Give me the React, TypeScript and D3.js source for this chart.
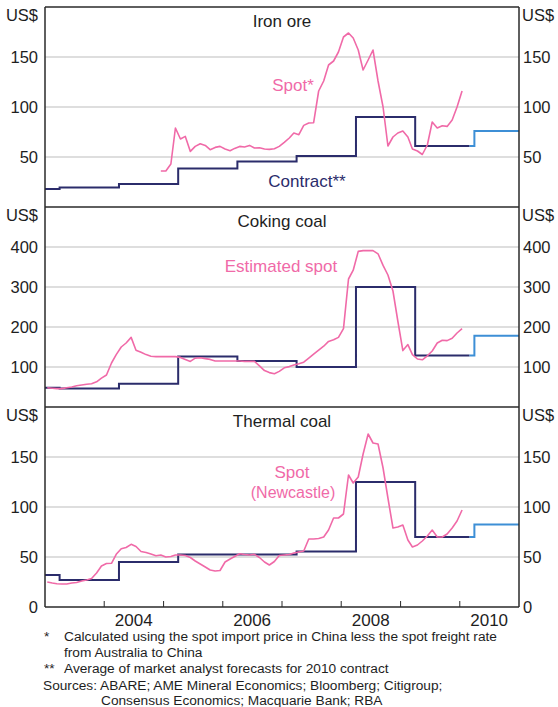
import React from 'react';
import * as d3 from 'd3';

// ---------- DATA ----------
const yearLabels = ['2004', '2006', '2008', '2010'];
const yearTicks = ['2004', '2005', '2006', '2007', '2008', '2009', '2010'];

// Monthly spot prices (US$), plotted mid-month
const ironSpotStart = '2004-12';
const ironSpot = [
  36, 36, 43, 79, 68, 70.6, 55.6, 60.6, 63.3, 61.6, 57.3, 59.6, 60.6, 58, 56.3, 58.6,
  60.6, 60, 61.6, 59, 59.3, 58, 57.6, 58.3, 60.6, 64.6, 69, 74, 72.3, 81.6, 84, 84.3,
  116, 126, 142, 146, 155, 170, 174, 169, 157, 137, 147, 157, 126, 100, 61, 70,
  74, 76, 70, 58, 56, 52.5, 62, 85, 79, 81.3, 80.6, 87, 100, 116,
];

const cokingSpotStart = '2003-01';
const cokingSpot = [
  48, 47, 46, 46, 48, 50, 53, 55, 57, 58, 63, 72, 80, 110, 131, 150, 160, 174, 142, 137,
  131, 127, 126, 126, 126, 126, 126, 124, 119, 114, 122, 123, 121, 119, 115, 115, 115, 115, 115, 115,
  114, 114, 114, 103, 91, 86, 83, 89, 98, 101, 105, 108, 112, 122, 132, 142, 152, 164, 168, 174,
  196, 320, 342, 389, 391, 391, 391, 383, 354, 330, 290, 215, 141, 156, 131, 120, 118, 128, 140, 160,
  167, 166, 172, 185, 196,
];

const thermalSpotStart = '2003-01';
const thermalSpot = [
  25, 24, 23.3, 23, 23, 24, 24.5, 26, 27, 28.5, 34, 41, 43.5, 43.7, 52.7, 58.3, 59.5, 62.7, 60.5, 55.5,
  54.5, 53, 51.3, 52, 50, 50.5, 52, 52, 51.5, 49.5, 46, 43, 40, 37, 36, 36.5, 45, 48, 50.5, 53.3,
  52.5, 52, 52.7, 49.5, 45, 42, 45.5, 51.5, 52, 52.5, 54, 55, 56, 68, 68, 68.5, 70, 77, 89, 89,
  93, 132, 124, 130, 153, 173, 164, 163, 139, 109, 79, 80, 82, 67, 60, 62, 66, 71, 77, 70,
  70, 73, 79, 86, 97,
];

// Contract prices: value applies from each date until the next
const contractDates = ['2003-01', '2003-04', '2004-04', '2005-04', '2006-04', '2007-04', '2008-04', '2009-04', '2010-03'];
const ironContract = [18, 19.5, 23, 38.5, 45.5, 51, 90, 61, 61];
const cokingContract = [48, 46, 58, 126, 115, 100, 300, 129, 129];
const thermalContract = [32, 27, 45, 52.5, 52.5, 55.5, 125, 70, 70];

// Forecast for 2010 contract
const forecastDates = ['2010-03', '2010-04', '2011-01'];
const ironForecast = [61, 76, 76];
const cokingForecast = [129, 178, 178];
const thermalForecast = [70, 82.5, 82.5];

const footnotes = [
  { mark: '*', text: 'Calculated using the spot import price in China less the spot freight rate' },
  { mark: '', text: 'from Australia to China' },
  { mark: '**', text: 'Average of market analyst forecasts for 2010 contract' },
];
const sources1 = 'Sources: ABARE; AME Mineral Economics; Bloomberg; Citigroup;';
const sources2 = 'Consensus Economics; Macquarie Bank; RBA';

// ---------- LAYOUT ----------
const W = 558;
const H = 707;
const left = 45;
const right = 519;
const top0 = 7;
const panelH = 200;
const FONT = '"Liberation Sans", Arial, Helvetica, sans-serif';
const PINK = '#f06aa8';
const NAVY = '#2b2c6b';
const BLUE = '#3d8fd6';
const GRID = '#bdbdbd';
const FRAME = '#2a2a2a';
const TEXT = '#1e1e1e';

const parseMonth = (s: string) => {
  const [y, m] = s.split('-').map(Number);
  return new Date(y, m - 1, 1);
};
const midMonths = (start: string, n: number) => {
  const d = parseMonth(start);
  return d3.range(n).map((i) => new Date(d.getFullYear(), d.getMonth() + i, 15));
};

const x = d3.scaleTime().domain([new Date(2003, 0, 1), new Date(2011, 0, 1)]).range([left, right]);

type Panel = {
  title: string;
  max: number;
  ticks: number[];
  leftTicks: number[];
  spot: number[];
  spotStart: string;
  contract: number[];
  forecast: number[];
  labels: { text: string; x: number; y: number; color: string; size: number }[];
};

const panels: Panel[] = [
  {
    title: 'Iron ore',
    max: 200,
    ticks: [50, 100, 150],
    leftTicks: [50, 100, 150],
    spot: ironSpot,
    spotStart: ironSpotStart,
    contract: ironContract,
    forecast: ironForecast,
    labels: [
      { text: 'Spot*', x: 293, y: 91, color: PINK, size: 17 },
      { text: 'Contract**', x: 307, y: 187, color: NAVY, size: 17 },
    ],
  },
  {
    title: 'Coking coal',
    max: 500,
    ticks: [100, 200, 300, 400],
    leftTicks: [100, 200, 300, 400],
    spot: cokingSpot,
    spotStart: cokingSpotStart,
    contract: cokingContract,
    forecast: cokingForecast,
    labels: [{ text: 'Estimated spot', x: 281, y: 272, color: PINK, size: 17 }],
  },
  {
    title: 'Thermal coal',
    max: 200,
    ticks: [50, 100, 150],
    leftTicks: [0, 50, 100, 150],
    spot: thermalSpot,
    spotStart: thermalSpotStart,
    contract: thermalContract,
    forecast: thermalForecast,
    labels: [
      { text: 'Spot', x: 292, y: 478, color: PINK, size: 17 },
      { text: '(Newcastle)', x: 293, y: 498, color: PINK, size: 16 },
    ],
  },
];

function PanelView({ p, i }: { p: Panel; i: number }) {
  const y0 = top0 + i * panelH;
  const y = d3.scaleLinear().domain([0, p.max]).range([y0 + panelH, y0]);
  const spotDates = midMonths(p.spotStart, p.spot.length);
  const spotLine = d3
    .line<number>()
    .x((_, k) => x(spotDates[k]))
    .y((d) => y(d));
  const cDates = contractDates.map(parseMonth);
  const stepLine = (dates: Date[]) =>
    d3
      .line<number>()
      .x((_, k) => x(dates[k]))
      .y((d) => y(d))
      .curve(d3.curveStepAfter);
  const fDates = forecastDates.map(parseMonth);
  return (
    <g>
      {p.ticks.map((t) => (
        <line key={t} x1={left} x2={right} y1={y(t)} y2={y(t)} stroke={GRID} strokeWidth={1} />
      ))}
      <path d={stepLine(fDates)(p.forecast) || ''} fill="none" stroke={BLUE} strokeWidth={2} />
      <path d={stepLine(cDates)(p.contract) || ''} fill="none" stroke={NAVY} strokeWidth={2} />
      <path d={spotLine(p.spot) || ''} fill="none" stroke={PINK} strokeWidth={1.6} strokeLinejoin="round" />
      <text x={(left + right) / 2} y={y0 + 20} textAnchor="middle" fontSize={17} fill={TEXT}>
        {p.title}
      </text>
      {p.labels.map((l) => (
        <text key={l.text} x={l.x} y={l.y} textAnchor="middle" fontSize={l.size} fill={l.color}>
          {l.text}
        </text>
      ))}
      <text x={38} y={y0 + 14} textAnchor="end" fontSize={16.5} fill={TEXT}>
        US$
      </text>
      <text x={522} y={y0 + 14} textAnchor="start" fontSize={16.5} fill={TEXT}>
        US$
      </text>
      {p.leftTicks.map((t) => (
        <g key={'lt' + t}>
          <text x={38} y={y(t) + 6} textAnchor="end" fontSize={16.5} fill={TEXT}>
            {t}
          </text>
          <text x={523} y={y(t) + 6} textAnchor="start" fontSize={16.5} fill={TEXT}>
            {t}
          </text>
        </g>
      ))}
    </g>
  );
}

export default function App() {
  const bottom = top0 + panelH * 3;
  return (
    <svg width={W} height={H} style={{ position: 'absolute', left: 0, top: 0 }} fontFamily={FONT}>
      <rect x={0} y={0} width={W} height={H} fill="#fff" />
      {panels.map((p, i) => (
        <PanelView key={p.title} p={p} i={i} />
      ))}
      {[0, 1, 2, 3].map((k) => (
        <line key={k} x1={left} x2={right} y1={top0 + k * panelH} y2={top0 + k * panelH} stroke={FRAME} strokeWidth={1.5} />
      ))}
      <line x1={left} x2={left} y1={top0} y2={bottom} stroke={FRAME} strokeWidth={1.5} />
      <line x1={right} x2={right} y1={top0} y2={bottom} stroke={FRAME} strokeWidth={1.5} />
      {yearTicks.map((yr) => {
        const xx = x(new Date(+yr, 0, 1));
        return <line key={yr} x1={xx} x2={xx} y1={bottom} y2={bottom - 6} stroke={FRAME} strokeWidth={1} />;
      })}
      {yearLabels.map((yr) => (
        <text key={yr} x={x(new Date(+yr, 6, 1))} y={bottom + 19} textAnchor="middle" fontSize={17} fill={TEXT}>
          {yr}
        </text>
      ))}
      {footnotes.map((f, k) => (
        <g key={k}>
          {f.mark && (
            <text x={44} y={641 + k * 16} fontSize={13.7} fill={TEXT}>
              {f.mark}
            </text>
          )}
          <text x={64} y={641 + k * 16} fontSize={13.7} fill={TEXT}>
            {f.text}
          </text>
        </g>
      ))}
      <text x={43} y={690} fontSize={13.7} fill={TEXT}>
        {sources1}
      </text>
      <text x={101} y={705} fontSize={13.7} fill={TEXT}>
        {sources2}
      </text>
    </svg>
  );
}
